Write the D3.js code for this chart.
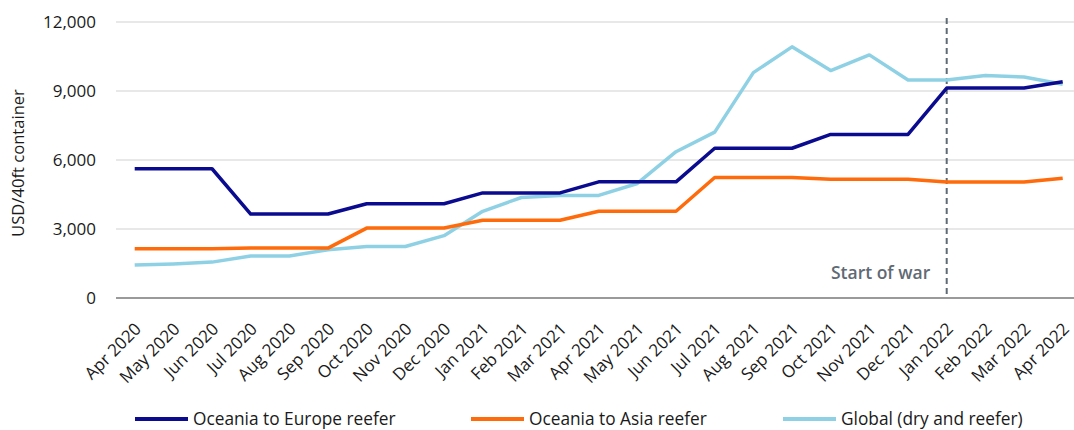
<!DOCTYPE html>
<html>
<head>
<meta charset="utf-8">
<script src="https://cdn.jsdelivr.net/npm/d3@7"></script>
<style>
  html, body { margin: 0; padding: 0; background: #ffffff; }
  svg text { font-family: "Open Sans", "Noto Sans", sans-serif; }
</style>
</head>
<body>
<svg id="chart" width="1074" height="430"></svg>
<script>
// Monthly freight rates, USD per 40ft container
const months = ["Apr 2020","May 2020","Jun 2020","Jul 2020","Aug 2020","Sep 2020","Oct 2020","Nov 2020","Dec 2020",
  "Jan 2021","Feb 2021","Mar 2021","Apr 2021","May 2021","Jun 2021","Jul 2021","Aug 2021","Sep 2021","Oct 2021",
  "Nov 2021","Dec 2021","Jan 2022","Feb 2022","Mar 2022","Apr 2022"];
const europeReefer = [5620,5620,5620,3650,3650,3650,4100,4100,4100,4570,4570,4570,5050,5050,5050,6510,6510,6510,7110,7110,7110,9130,9130,9130,9400];
const asiaReefer   = [2140,2140,2140,2170,2170,2170,3040,3040,3040,3380,3380,3380,3770,3770,3770,5240,5240,5240,5160,5160,5160,5040,5040,5040,5210];
const globalRate   = [1430,1480,1560,1830,1830,2100,2240,2240,2710,3770,4370,4460,4460,4980,6360,7210,9800,10920,9890,10570,9480,9480,9670,9610,9290];
const yTicks = [0,3000,6000,9000,12000];
const seriesNames = ["Oceania to Europe reefer","Oceania to Asia reefer","Global (dry and reefer)"];
const seriesColors = ["#0b0b8f","#ff6a0a","#8fd1e4"];
const warMonth = "Jan 2022";
const warLabel = "Start of war";

const svg = d3.select("#chart");
const plotLeft = 116, plotRight = 1074, plotTop = 22, plotBottom = 298;

const x = d3.scalePoint().domain(months).range([134.7, 1062.7]);
const y = d3.scaleLinear().domain([0, 12000]).range([plotBottom, plotTop]);

// horizontal gridlines
svg.append("g").selectAll("line").data(yTicks.filter(d => d > 0)).join("line")
  .attr("x1", plotLeft).attr("x2", plotRight)
  .attr("y1", d => y(d)).attr("y2", d => y(d))
  .attr("stroke", "#e1e1e1").attr("stroke-width", 1.3);

// y axis labels
const yAxis = svg.append("g").attr("transform", `translate(${plotLeft - 20},0)`)
  .call(d3.axisLeft(y).tickValues(yTicks).tickFormat(d3.format(",")).tickSize(0).tickPadding(0));
yAxis.select(".domain").remove();
yAxis.selectAll("text").attr("font-size", 17).attr("fill", "#1a1a1a")
  .style("font-family", "'Open Sans', sans-serif");

// baseline
svg.append("line").attr("x1", plotLeft).attr("x2", plotRight)
  .attr("y1", y(0)).attr("y2", y(0)).attr("stroke", "#9a9a9a").attr("stroke-width", 2);

// x axis labels, rotated 45 degrees
const xAxis = svg.append("g").attr("transform", `translate(0,${y(0)})`)
  .call(d3.axisBottom(x).tickSize(0).tickPadding(0));
xAxis.select(".domain").remove();
xAxis.selectAll("text")
  .attr("font-size", 17).attr("fill", "#1a1a1a")
  .attr("text-anchor", "end")
  .attr("dy", null).attr("y", null)
  .attr("transform", "translate(7,32) rotate(-45)")
  .style("font-family", "'Open Sans', sans-serif");

// y axis title
svg.append("text")
  .attr("transform", `translate(24,${(plotTop + plotBottom) / 2 + 3}) rotate(-90)`)
  .attr("text-anchor", "middle").attr("font-size", 16.6).attr("fill", "#1a1a1a")
  .text("USD/40ft container");

// event marker
svg.append("line")
  .attr("x1", x(warMonth)).attr("x2", x(warMonth))
  .attr("y1", 18).attr("y2", y(0))
  .attr("stroke", "#5f6a74").attr("stroke-width", 2).attr("stroke-dasharray", "6,4");
svg.append("text")
  .attr("x", x(warMonth) - 16.5).attr("y", 279)
  .attr("text-anchor", "end").attr("font-size", 17.5).attr("font-weight", 600)
  .attr("fill", "#5f6a74").text(warLabel);

// series lines
const allSeries = [europeReefer, asiaReefer, globalRate];
const line = d3.line().x((d, i) => x(months[i])).y(d => y(d));
svg.append("g").selectAll("path").data([globalRate, asiaReefer, europeReefer]).join("path")
  .attr("d", line)
  .attr("fill", "none")
  .attr("stroke", d => seriesColors[allSeries.indexOf(d)])
  .attr("stroke-width", 3.5)
  .attr("stroke-linejoin", "round");

// legend
const legendX = [135, 471, 783];
const legend = svg.append("g").selectAll("g").data(seriesNames).join("g")
  .attr("transform", (d, i) => `translate(${legendX[i]},419)`);
legend.append("line").attr("x1", 0).attr("x2", 53).attr("y1", 0).attr("y2", 0)
  .attr("stroke", (d, i) => seriesColors[i]).attr("stroke-width", 4);
legend.append("text").attr("x", 58).attr("y", 0).attr("dy", "0.35em")
  .attr("font-size", 17.3).attr("fill", "#1a1a1a").text(d => d);
</script>
</body>
</html>
